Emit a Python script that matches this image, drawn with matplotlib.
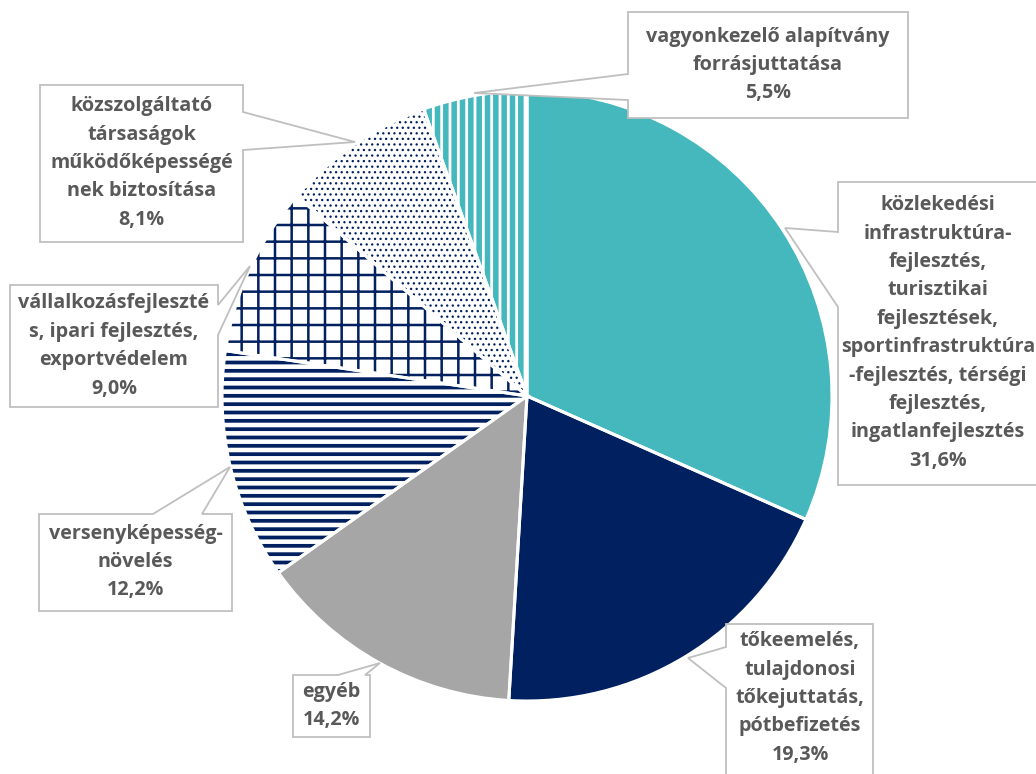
import matplotlib
matplotlib.use('Agg')
import matplotlib.pyplot as plt
from matplotlib.patches import Polygon

# data
names = [
    "közlekedési\ninfrastruktúra-\nfejlesztés,\nturisztikai\nfejlesztések,\nsportinfrastruktúra\n-fejlesztés, térségi\nfejlesztés,\ningatlanfejlesztés",
    "tőkeemelés,\ntulajdonosi\ntőkejuttatás,\npótbefizetés",
    "egyéb",
    "versenyképesség-\nnövelés",
    "vállalkozásfejleszté\ns, ipari fejlesztés,\nexportvédelem",
    "közszolgáltató\ntársaságok\nműködőképességé\nnek biztosítása",
    "vagyonkezelő alapítvány\nforrásjuttatása",
]
shares = [31.6, 19.3, 14.2, 12.2, 9.0, 8.1, 5.5]
fill_colors = ['#45B8BE', '#002060', '#A6A6A6', 'white', 'white', 'white', 'white']
hatch_colors = ['#45B8BE', '#002060', '#A6A6A6', '#002060', '#002060', '#002060', '#45B8BE']
hatches = [None, None, None, '--', '+', '...', '||']

W, H = 1036, 774
TXT = '#595959'
BORDER = '#BFBFBF'

plt.rcParams['hatch.linewidth'] = 2.2

fig = plt.figure(figsize=(W / 100, H / 100), dpi=100)
ax = fig.add_axes([0, 0, 1, 1])


def Y(y):
    return H - y


center = (527, Y(396))
radius = 305

wedges, _ = ax.pie(shares, colors=fill_colors, startangle=90, counterclock=False,
                   center=center, radius=radius, frame=True,
                   wedgeprops=dict(linewidth=0))
for w, hc, h in zip(wedges, hatch_colors, hatches):
    w.set_edgecolor(hc)
    if h:
        w.set_hatch(h)
        if hasattr(w, 'set_hatch_linewidth'):
            w.set_hatch_linewidth({'--': 2.7, '+': 1.8, '...': 0.9, '||': 4.0}[h])
# white separators
ax.pie(shares, colors=['none'] * len(shares), startangle=90, counterclock=False,
       center=center, radius=radius, frame=True,
       wedgeprops=dict(linewidth=2.2, edgecolor='white', fill=False))
ax.set_xlim(0, W)
ax.set_ylim(0, H)
ax.set_aspect('auto')
ax.axis('off')


def callout(box, side, base, tip):
    x0, y0, x1, y1 = box
    if side == 'left':
        pts = [(x0, y0), (x1, y0), (x1, y1), (x0, y1), (x0, base[1]), tip, (x0, base[0])]
    elif side == 'right':
        pts = [(x0, y0), (x1, y0), (x1, base[0]), tip, (x1, base[1]), (x1, y1), (x0, y1)]
    else:  # top
        pts = [(x0, y0), (base[0], y0), tip, (base[1], y0), (x1, y0), (x1, y1), (x0, y1)]
    pts = [(x, Y(y)) for x, y in pts]
    ax.add_patch(Polygon(pts, closed=True, facecolor='white', edgecolor=BORDER,
                         linewidth=1.3, zorder=5))


# box, side, base, tip, text center
layout = [
    ((838, 182, 1045, 485), 'left', (232, 307), (785, 228), (938, 333)),
    ((726, 624, 873, 790), 'left', (647, 688), (688, 658), (800, 698)),
    ((293, 675, 370, 737), 'top', (338, 365), (380, 663), (331.5, 706)),
    ((39, 514, 232, 611), 'top', (153, 202), (230, 467), (135.5, 562)),
    ((10, 285, 218, 407), 'right', (305, 335), (250, 266), (114, 346)),
    ((40, 85, 243, 242), 'right', (112, 150), (355, 142), (141.5, 163)),
    ((628, 12, 908, 118), 'left', (74, 100), (474, 93), (768, 65)),
]

for name, val, (box, side, base, tip, c) in zip(names, shares, layout):
    callout(box, side, base, tip)
    label = name + "\n" + f"{val:.1f}".replace('.', ',') + "%"
    ax.text(c[0], Y(c[1]), label, ha='center', va='center', fontsize=14.2,
            fontweight='bold', color=TXT, family='Open Sans', linespacing=1.56, zorder=6)

fig.savefig('out.png', dpi=100, facecolor='white')
